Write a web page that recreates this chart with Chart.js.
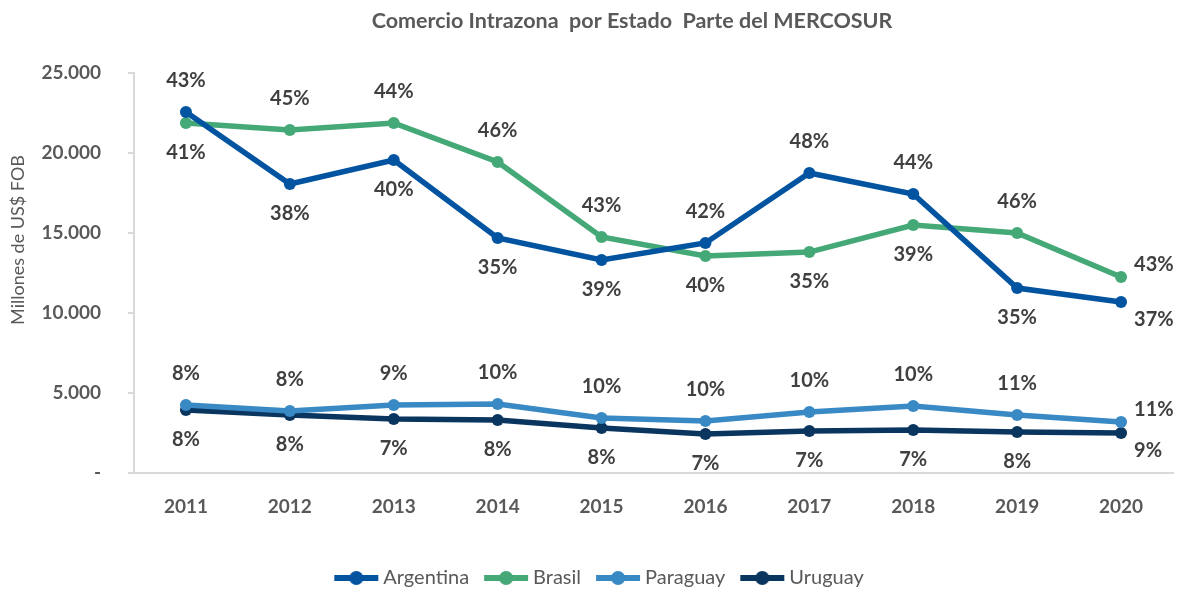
<!DOCTYPE html>
<html>
<head>
<meta charset="utf-8">
<script src="https://cdn.jsdelivr.net/npm/chart.js@4"></script>
<style>
  html, body { margin: 0; padding: 0; background: #fff; }
  #wrap { width: 1181px; height: 590px; }
</style>
</head>
<body>
<div id="wrap"><canvas id="chart"></canvas></div>
<script>
// categories
const years = ['2011', '2012', '2013', '2014', '2015', '2016', '2017', '2018', '2019', '2020'];

// intra-zone trade, millones de US$ FOB
const argentina = [22560, 18060, 19560, 14690, 13310, 14375, 18750, 17440, 11560, 10690];
const brasil    = [21875, 21440, 21875, 19440, 14750, 13560, 13810, 15500, 15000, 12250];
const paraguay  = [4250, 3875, 4250, 4310, 3440, 3250, 3810, 4190, 3625, 3190];
const uruguay   = [3940, 3625, 3375, 3310, 2810, 2440, 2625, 2690, 2560, 2500];

// share labels (%)
const argShare = [43, 38, 40, 35, 39, 42, 48, 44, 35, 37];
const braShare = [41, 45, 44, 46, 43, 40, 35, 39, 46, 43];
const parShare = [8, 8, 9, 10, 10, 10, 10, 10, 11, 11];
const uruShare = [8, 8, 7, 8, 8, 7, 7, 7, 8, 9];

// y ticks
const yTicks = [0, 5000, 10000, 15000, 20000, 25000];

const FONT = 'Lato, "Open Sans", sans-serif';
const shares = [argShare, braShare, parShare, uruShare];
const pairOf = [1, 0, 3, 2];

function legendMark(color) {
    const c = document.createElement('canvas');
    c.width = 46; c.height = 16;
    const g = c.getContext('2d');
    g.strokeStyle = color;
    g.lineWidth = 6;
    g.beginPath(); g.moveTo(1, 8); g.lineTo(45, 8); g.stroke();
    g.fillStyle = color;
    g.beginPath(); g.arc(23, 8, 7, 0, Math.PI * 2); g.fill();
    return c;
}

function series(label, data, color) {
    return {
        label: label,
        data: data,
        borderColor: color,
        backgroundColor: color,
        borderWidth: 5.5,
        pointRadius: 6,
        pointHoverRadius: 6,
        pointBackgroundColor: color,
        pointBorderWidth: 0,
        tension: 0
    };
}

// percentage labels above/below each point, last one to the right
const shareLabels = {
    id: 'shareLabels',
    afterDatasetsDraw(chart) {
        const ctx = chart.ctx;
        ctx.save();
        ctx.font = 'bold 20px ' + FONT;
        ctx.fillStyle = '#404040';
        ctx.textBaseline = 'middle';
        chart.data.datasets.forEach((ds, i) => {
            const meta = chart.getDatasetMeta(i);
            const other = chart.getDatasetMeta(pairOf[i]);
            meta.data.forEach((pt, j) => {
                const higher = pt.y <= other.data[j].y;
                const txt = shares[i][j] + '%';
                if (j === meta.data.length - 1) {
                    ctx.textAlign = 'left';
                    ctx.fillText(txt, pt.x + 13, higher ? pt.y - 12 : pt.y + 18);
                } else {
                    ctx.textAlign = 'center';
                    ctx.fillText(txt, pt.x, higher ? pt.y - 31 : pt.y + 30);
                }
            });
        });
        ctx.restore();
    }
};

// chart title and y axis title
const titles = {
    id: 'titles',
    afterDraw(chart) {
        const ctx = chart.ctx;
        ctx.save();
        ctx.fillStyle = '#595959';
        ctx.textAlign = 'center';
        ctx.textBaseline = 'middle';
        ctx.font = 'bold 21.5px ' + FONT;
        ctx.fillText('Comercio Intrazona  por Estado  Parte del MERCOSUR', 632, 21);
        ctx.translate(18, 240);
        ctx.rotate(-Math.PI / 2);
        ctx.font = '18px ' + FONT;
        ctx.fillText('Millones de US$ FOB', 0, 0);
        ctx.restore();
    }
};

const ctx = document.getElementById('chart').getContext('2d');
const chart = new Chart(ctx, {
    type: 'line',
    data: {
        labels: years,
        datasets: [
            series('Argentina', argentina, '#0254a0'),
            series('Brasil', brasil, '#45a877'),
            series('Paraguay', paraguay, '#3889c4'),
            series('Uruguay', uruguay, '#0a355f')
        ]
    },
    options: {
        responsive: true,
        maintainAspectRatio: false,
        animation: false,
        layout: { padding: { left: 30, right: 8, top: 73, bottom: -8 } },
        plugins: {
            title: { display: false },
            tooltip: { enabled: false },
            legend: {
                position: 'bottom',
                labels: {
                    usePointStyle: true,
                    pointStyleWidth: 34,
                    padding: 20,
                    color: '#595959',
                    font: { family: FONT, size: 20 },
                    generateLabels(chart) {
                        return chart.data.datasets.map((ds, i) => ({
                            text: ds.label,
                            pointStyle: legendMark(ds.borderColor),
                            fillStyle: ds.borderColor,
                            strokeStyle: ds.borderColor,
                            lineWidth: 0,
                            fontColor: '#595959',
                            datasetIndex: i
                        }));
                    }
                }
            }
        },
        scales: {
            x: {
                offset: true,
                grid: { display: false },
                border: { display: true, color: '#d9d9d9', width: 2 },
                ticks: {
                    color: '#595959',
                    padding: 14,
                    font: { family: FONT, size: 19, weight: 'bold' }
                },
                afterFit(scale) { scale.height = 75; }
            },
            y: {
                min: 0,
                max: 25000,
                afterBuildTicks(scale) { scale.ticks = yTicks.map(v => ({ value: v })); },
                grid: {
                    drawOnChartArea: false,
                    color: '#d9d9d9',
                    lineWidth: 2,
                    tickLength: 6
                },
                border: { display: true, color: '#d9d9d9', width: 2 },
                ticks: {
                    color: '#595959',
                    padding: 27,
                    font: { family: FONT, size: 19, weight: 'bold' },
                    callback(v) { return v === 0 ? '-' : v.toLocaleString('de-DE'); }
                },
                afterFit(scale) { scale.width = 104; }
            }
        }
    },
    plugins: [shareLabels, titles]
});
</script>
</body>
</html>
